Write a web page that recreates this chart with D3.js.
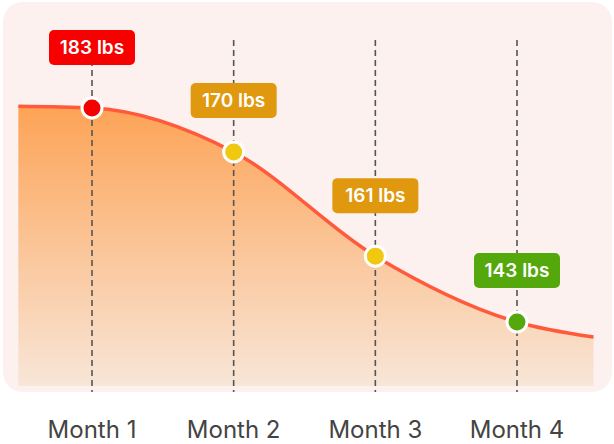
<!DOCTYPE html>
<html><head><meta charset="utf-8">
<script src="https://cdn.jsdelivr.net/npm/d3@7"></script>
<style>body{margin:0;background:#fff}svg{display:block;font-family:Inter,"Noto Sans",sans-serif}</style>
</head><body><div id="chart"></div>
<script>
const months = ["Month 1", "Month 2", "Month 3", "Month 4"];
const weights = [183, 170, 161, 143];
const labelColors = ["#f80000", "#e0990f", "#e0990f", "#55a80c"];
const dotColors = ["#f40000", "#f0c80f", "#f0c80f", "#55a80c"];
// curve shape (x in months, y on a 0-100 chart scale)
const curveX = [0.48, 1, 2, 3, 4, 4.54];
const curveY = [81.2, 80.7, 68.2, 38.6, 19.9, 15.6];
const labelHigh = [true, false, true, false];

const W = 614, H = 444;
const svg = d3.select("#chart").append("svg").attr("width", W).attr("height", H);

const x = d3.scaleLinear().domain([1, 4]).range([92, 517]);
const y = d3.scaleLinear().domain([0, 100]).range([392, 40]);

svg.append("rect").attr("x", 3).attr("y", 2).attr("width", 609).attr("height", 390)
  .attr("rx", 20).attr("fill", "#fcf1ef");

const grad = svg.append("defs").append("linearGradient").attr("id", "g")
  .attr("x1", 0).attr("y1", 0).attr("x2", 0).attr("y2", 1);
grad.append("stop").attr("offset", 0).attr("stop-color", "#fda356");
grad.append("stop").attr("offset", 1).attr("stop-color", "#f8e6d8");

const pts = curveX.map((v, i) => [v, curveY[i]]);
svg.append("path").datum(pts).attr("fill", "url(#g)")
  .attr("d", d3.area().x(d => x(d[0])).y0(386).y1(d => y(d[1])).curve(d3.curveMonotoneX));

months.forEach((m, i) => {
  svg.append("line").attr("x1", x(i + 1)).attr("x2", x(i + 1))
    .attr("y1", i === 0 ? 60 : 40).attr("y2", 392)
    .attr("stroke", "#555").attr("stroke-width", 1.6).attr("stroke-dasharray", "6,4");
});

svg.append("path").datum(pts).attr("fill", "none").attr("stroke", "#ff5a3c").attr("stroke-width", 3.5)
  .attr("d", d3.line().x(d => x(d[0])).y(d => y(d[1])).curve(d3.curveMonotoneX));

months.forEach((m, i) => {
  const cx = x(i + 1), cy = y(curveY[i + 1]);
  svg.append("circle").attr("cx", cx).attr("cy", cy).attr("r", 10)
    .attr("fill", dotColors[i]).attr("stroke", "#fff").attr("stroke-width", 3);
  const ly = cy - (labelHigh[i] ? 61 : 52);
  svg.append("rect").attr("x", cx - 43).attr("y", ly - 17).attr("width", 86).attr("height", 35)
    .attr("rx", 5).attr("fill", labelColors[i]);
  svg.append("text").attr("x", cx).attr("y", ly + 7).attr("text-anchor", "middle")
    .attr("fill", "#fff").attr("font-size", 19).attr("font-weight", 600).text(weights[i] + " lbs");
  svg.append("text").attr("x", cx).attr("y", 438).attr("text-anchor", "middle")
    .attr("fill", "#444").attr("font-size", 24).text(m);
});
</script></body></html>
